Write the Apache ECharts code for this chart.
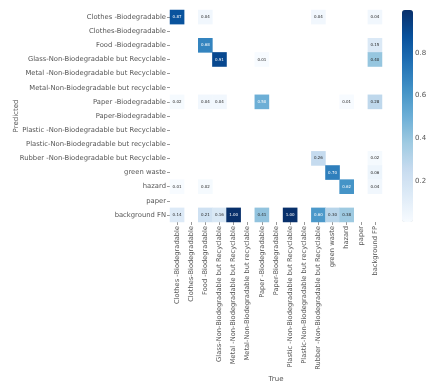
<!DOCTYPE html>
<html><head><meta charset="utf-8">
<script src="https://cdn.jsdelivr.net/npm/echarts@6/dist/echarts.min.js"></script>
<style>html,body{margin:0;padding:0;background:#fff}#c{width:429px;height:381px}</style>
</head><body><div id="c"></div>
<script>
const classes = ['Clothes -Biodegradable','Clothes-Biodegradable','Food -Biodegradable','Glass-Non-Biodegradable but Recyclable','Metal -Non-Biodegradable but Recyclable','Metal-Non-Biodegradable but recyclable','Paper -Biodegradable','Paper-Biodegradable','Plastic -Non-Biodegradable but Recyclable','Plastic-Non-Biodegradable but recyclable','Rubber -Non-Biodegradable but Recyclable','green waste','hazard','paper'];
const predictedLabels = classes.concat(['background FN']);
const trueLabels = classes.concat(['background FP']);
// rows = predicted, columns = true; 0 = empty cell
const matrix = [
  [0.87,0,0.04,0,0,0,0,0,0,0,0.04,0,0,0,0.04],
  [0,0,0,0,0,0,0,0,0,0,0,0,0,0,0],
  [0,0,0.68,0,0,0,0,0,0,0,0,0,0,0,0.15],
  [0,0,0,0.91,0,0,0.01,0,0,0,0,0,0,0,0.40],
  [0,0,0,0,0,0,0,0,0,0,0,0,0,0,0],
  [0,0,0,0,0,0,0,0,0,0,0,0,0,0,0],
  [0.02,0,0.04,0.04,0,0,0.50,0,0,0,0,0,0.01,0,0.28],
  [0,0,0,0,0,0,0,0,0,0,0,0,0,0,0],
  [0,0,0,0,0,0,0,0,0,0,0,0,0,0,0],
  [0,0,0,0,0,0,0,0,0,0,0,0,0,0,0],
  [0,0,0,0,0,0,0,0,0,0,0.26,0,0,0,0.02],
  [0,0,0,0,0,0,0,0,0,0,0,0.70,0,0,0.06],
  [0.01,0,0.02,0,0,0,0,0,0,0,0,0,0.62,0,0.04],
  [0,0,0,0,0,0,0,0,0,0,0,0,0,0,0],
  [0.14,0,0.21,0.16,1.00,0,0.41,0,1.00,0,0.60,0.30,0.38,0,0]
];
const colorbarTicks = [0.2,0.4,0.6,0.8];
const blues = ['#f7fbff','#deebf7','#c6dbef','#9ecae1','#6baed6','#4292c6','#2171b5','#08519c','#08306b'];

const data = [];
matrix.forEach((row, r) => row.forEach((v, c) => {
  if (v > 0) data.push({value: [c, r, v], label: {color: v > 0.45 ? '#ffffff' : '#262626'}});
}));

const font = 'DejaVu Sans';
const chart = echarts.init(document.getElementById('c'));
chart.setOption({
  animation: false,
  textStyle: {fontFamily: font},
  grid: [
    {left: 170, top: 10, width: 212, height: 212, containLabel: false, outerBoundsMode: 'none'},
    {left: 402, top: 10, width: 11, height: 212, containLabel: false, outerBoundsMode: 'none'}
  ],
  xAxis: [
    {type: 'category', data: trueLabels, gridIndex: 0, position: 'bottom',
     axisLine: {show: false}, splitLine: {show: false},
     axisTick: {show: true, length: 3, alignWithLabel: true, lineStyle: {color: '#555', width: 0.6}},
     axisLabel: {rotate: 90, fontSize: 6.7, color: '#555', margin: 4, interval: 0, fontFamily: font},
     name: 'True', nameLocation: 'middle', nameGap: 154, nameMoveOverlap: false,
     nameTextStyle: {fontSize: 7, color: '#555', fontFamily: font}},
    {type: 'value', gridIndex: 1, show: false, min: 0, max: 1}
  ],
  yAxis: [
    {type: 'category', data: predictedLabels, gridIndex: 0, inverse: true,
     axisLine: {show: false}, splitLine: {show: false},
     axisTick: {show: true, length: 3, alignWithLabel: true, lineStyle: {color: '#555', width: 0.6}},
     axisLabel: {fontSize: 6.8, color: '#555', margin: 4, interval: 0, fontFamily: font},
     name: 'Predicted', nameLocation: 'middle', nameGap: 150, nameRotate: 90, nameMoveOverlap: false,
     nameTextStyle: {fontSize: 7, color: '#555', fontFamily: font}},
    {type: 'value', gridIndex: 1, position: 'right', min: 0.01, max: 1.0,
     axisLine: {show: false}, splitLine: {show: false},
     axisTick: {show: true, length: 3, customValues: colorbarTicks, lineStyle: {color: '#555', width: 0.6}},
     axisLabel: {fontSize: 7, color: '#555', margin: 2, customValues: colorbarTicks, formatter: v => v.toFixed(1), fontFamily: font}}
  ],
  visualMap: {
    type: 'continuous', seriesIndex: 0, min: 0.01, max: 1.0, dimension: 2,
    show: true, calculable: false, orient: 'vertical', left: 402, top: 10,
    itemWidth: 11, itemHeight: 212, padding: 0, text: null, showLabel: false,
    inRange: {color: blues}
  },
  series: [
    {type: 'heatmap', xAxisIndex: 0, yAxisIndex: 0, data: data,
     label: {show: true, fontSize: 4, fontFamily: font, formatter: p => p.value[2].toFixed(2)},
     itemStyle: {borderWidth: 0}},
    {type: 'line', xAxisIndex: 1, yAxisIndex: 1, data: [], silent: true}
  ]
});
</script></body></html>
